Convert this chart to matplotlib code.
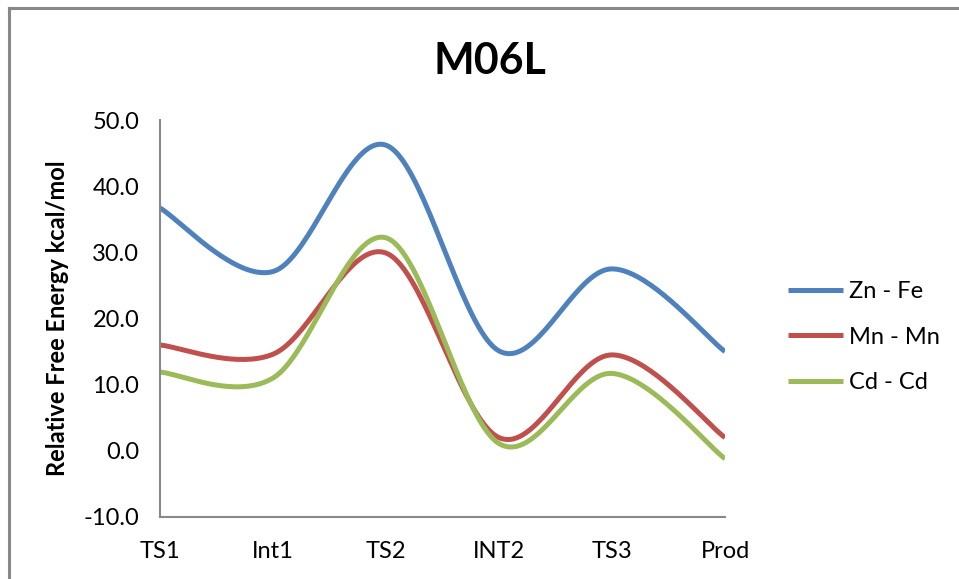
# M06L relative free energy profile
import numpy as np
import matplotlib
matplotlib.use('Agg')
import matplotlib.pyplot as plt
from matplotlib.lines import Line2D

plt.rcParams['font.family'] = ['Lato', 'DejaVu Sans']

stages = ['TS1', 'Int1', 'TS2', 'INT2', 'TS3', 'Prod']
zn_fe = [36.7, 27.1, 46.2, 15.1, 27.5, 15.0]
mn_mn = [16.0, 14.6, 29.9, 2.0, 14.5, 2.0]
cd_cd = [11.9, 11.0, 32.2, 1.1, 11.7, -1.2]
names = ['Zn - Fe', 'Mn - Mn', 'Cd - Cd']
colors = ['#4F81BD', '#C0504D', '#9BBB59']


def smooth(x, y, n=40):
    # excel style bezier smoothing (catmull-rom, 1/6 control points)
    x = np.asarray(x, float)
    y = np.asarray(y, float)
    px = np.concatenate([[x[0]], x, [x[-1]]])
    py = np.concatenate([[y[0]], y, [y[-1]]])
    xs, ys = [], []
    t = np.linspace(0, 1, n)
    for i in range(1, len(px) - 2):
        p0 = np.array([px[i], py[i]])
        p3 = np.array([px[i + 1], py[i + 1]])
        c1 = p0 + (p3 - np.array([px[i - 1], py[i - 1]])) / 6
        c2 = p3 - (np.array([px[i + 2], py[i + 2]]) - p0) / 6
        b = ((1 - t) ** 3)[:, None] * p0 + (3 * (1 - t) ** 2 * t)[:, None] * c1 \
            + (3 * (1 - t) * t ** 2)[:, None] * c2 + (t ** 3)[:, None] * p3
        xs.extend(b[:, 0])
        ys.extend(b[:, 1])
    return np.array(xs), np.array(ys)


fig = plt.figure(figsize=(9.59, 5.79), dpi=100)
ax = fig.add_axes([0.1668, 0.1071, 0.756 - 0.1668, 0.7927 - 0.1071])

xpos = np.arange(len(stages))
for vals, name, c in zip([zn_fe, mn_mn, cd_cd], names, colors):
    sx, sy = smooth(xpos, vals)
    ax.plot(sx, sy, color=c, lw=3.6, label=name, solid_capstyle='butt')

ax.set_xlim(0, len(stages) - 1)
ax.set_ylim(-10, 50)
ax.set_yticks(np.arange(-10, 51, 10))
ax.set_yticklabels(['%.1f' % v for v in np.arange(-10, 51, 10)])
ax.set_xticks(xpos)
ax.set_xticklabels(stages)
ax.tick_params(axis='both', length=0, labelsize=17)
ax.tick_params(axis='y', pad=15)
ax.tick_params(axis='x', pad=17)
for s in ['top', 'right']:
    ax.spines[s].set_visible(False)
for s in ['left', 'bottom']:
    ax.spines[s].set_color('#888888')
    ax.spines[s].set_linewidth(1.5)

ax.set_ylabel('Relative Free Energy kcal/mol', fontsize=17, fontweight='bold', labelpad=10)
fig.text(0.511, 0.895, 'M06L', fontsize=31, fontweight='bold', ha='center', va='center')

ax.legend(loc='center left', bbox_to_anchor=(1.074, 0.453), frameon=False, fontsize=17,
          handlelength=2.33, labelspacing=1.05, handletextpad=0.25)

# outer chart border (top and left visible)
fig.add_artist(Line2D([0.009, 1.0], [0.987, 0.987], color='#888888', lw=2.2,
                      transform=fig.transFigure))
fig.add_artist(Line2D([0.009, 0.009], [0.0, 0.987], color='#888888', lw=2.2,
                      transform=fig.transFigure))

fig.savefig('out.png', dpi=100)
